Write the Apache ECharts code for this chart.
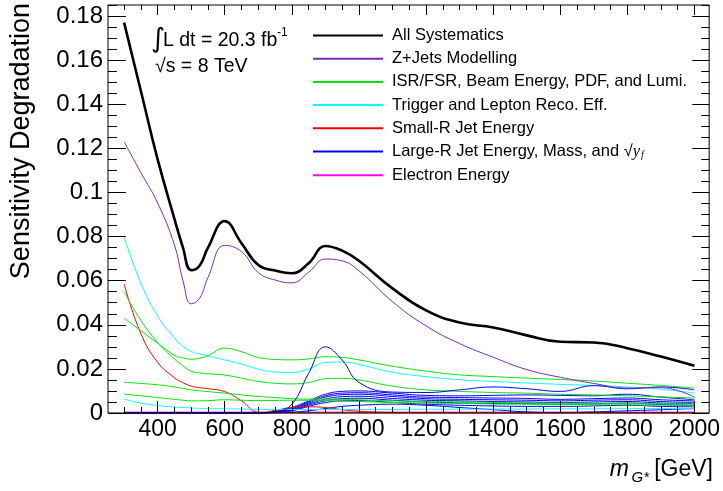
<!DOCTYPE html>
<html>
<head>
<meta charset="utf-8">
<script src="https://cdn.jsdelivr.net/npm/echarts@6/dist/echarts.min.js"></script>
<style>
html,body{margin:0;padding:0;background:#fff;}
#chart{width:723px;height:491px;}
</style>
</head>
<body>
<div id="chart"></div>
<script>
// ---- data ----
const masses = [300,350,400,450,475,500,525,550,600,650,700,750,800,850,900,950,1000,1100,1200,1300,1400,1500,1600,1700,1800,1900,2000];

const allSystematics = [0.177,0.146,0.115,0.088,0.0752,0.0648,0.0668,0.075,0.087,0.077,0.0671,0.0646,0.0634,0.0679,0.0757,0.0736,0.069,0.0565,0.0465,0.041,0.0388,0.0352,0.0323,0.032,0.0294,0.0256,0.0214];
const zjetsModelling = [0.123,0.109,0.0952,0.0762,0.0603,0.0495,0.052,0.0614,0.076,0.0732,0.0637,0.0603,0.059,0.0638,0.0698,0.069,0.0645,0.0505,0.0395,0.0315,0.0253,0.0197,0.0162,0.0134,0.0113,0.0115,0.0072];

const theoryA = [0.043,0.0373,0.0317,0.0262,0.025,0.0244,0.0248,0.026,0.0294,0.0278,0.0252,0.0243,0.0241,0.0245,0.0255,0.0252,0.0241,0.0212,0.019,0.0173,0.0165,0.0158,0.0152,0.0145,0.0135,0.0125,0.0113];
const theoryB = [0.055,0.042,0.032,0.0245,0.0215,0.019,0.0182,0.0178,0.0172,0.0158,0.0143,0.0135,0.0132,0.0138,0.0155,0.0157,0.015,0.0122,0.0105,0.0098,0.0093,0.009,0.0085,0.0082,0.0078,0.0073,0.0068];
const theoryC = [0.0139,0.0134,0.0128,0.0118,0.0112,0.0105,0.0101,0.0097,0.009,0.0082,0.0075,0.007,0.0065,0.0063,0.0063,0.0062,0.006,0.0055,0.0052,0.005,0.0048,0.0046,0.0045,0.0044,0.0043,0.0042,0.0041];
const theoryD = [0.0086,0.0078,0.007,0.0062,0.0058,0.0055,0.0055,0.0056,0.006,0.0058,0.0056,0.0057,0.0058,0.0058,0.0056,0.0054,0.0052,0.0048,0.0045,0.0043,0.0041,0.004,0.0039,0.0038,0.0037,0.0036,0.0035];

const triggerA = [0.080,0.059,0.044,0.034,0.0303,0.0279,0.0268,0.0259,0.0241,0.0222,0.0199,0.0186,0.0184,0.0199,0.0229,0.0231,0.022,0.0185,0.0165,0.0151,0.0143,0.0136,0.013,0.0125,0.0118,0.0108,0.009];
const triggerB = [0.0063,0.0045,0.0034,0.0027,0.0025,0.0023,0.0021,0.002,0.0019,0.0018,0.0017,0.0016,0.0016,0.0016,0.0016,0.0016,0.0016,0.0016,0.0017,0.0017,0.0018,0.0018,0.0019,0.0019,0.002,0.002,0.002];

const smallRJetA = [0.0585,0.036,0.023,0.016,0.0138,0.0122,0.0115,0.011,0.0097,0.0055,0.0003,0,0,0,0,0,0,0,0,0,0,0,0,0,0,0,0];
const smallRJetB = [0,0,0,0,0,0,0,0,0,0,0,0.0012,0.0025,0.0028,0.0025,0.0015,0.0008,0.0002,0,0,0,0,0,0,0,0,0];

const largeRJetA = [0,0,0,0,0,0,0,0,0,0,0,0.0005,0.004,0.018,0.030,0.024,0.0139,0.0095,0.0093,0.0105,0.0118,0.011,0.0098,0.0124,0.011,0.0118,0.0105];
const largeRJetB = [0,0,0,0,0,0,0,0,0,0,0,0.0008,0.0025,0.0055,0.0085,0.0098,0.0100,0.0090,0.0080,0.0078,0.0080,0.0082,0.0080,0.0078,0.0085,0.0072,0.0060];
const largeRJetC = [0,0,0,0,0,0,0,0,0,0,0,0.0006,0.002,0.005,0.0078,0.009,0.0092,0.0082,0.0072,0.007,0.0068,0.0066,0.0062,0.0065,0.0068,0.006,0.0055];
const largeRJetD = [0,0,0,0,0,0,0,0,0,0,0,0.0005,0.0018,0.0045,0.0072,0.0083,0.0085,0.0075,0.0065,0.0062,0.006,0.0058,0.0055,0.0058,0.006,0.0052,0.0048];
const largeRJetE = [0,0,0,0,0,0,0,0,0,0,0,0.0004,0.0015,0.004,0.0063,0.0074,0.0076,0.0066,0.0058,0.0055,0.0052,0.005,0.0047,0.005,0.0052,0.0045,0.0042];
const largeRJetF = [0,0,0,0,0,0,0,0,0,0,0,0.0003,0.0012,0.0035,0.0055,0.0065,0.0067,0.0058,0.005,0.0046,0.0043,0.0042,0.004,0.0042,0.0045,0.0038,0.0035];
const largeRJetG = [0,0,0,0,0,0,0,0,0,0,0,0.0002,0.001,0.003,0.0047,0.0055,0.0056,0.0048,0.004,0.0035,0.0032,0.003,0.003,0.0032,0.0035,0.003,0.0028];
const largeRJetH = [0,0,0,0,0,0,0,0,0,0,0,0,0.0003,0.001,0.002,0.003,0.0035,0.004,0.0035,0.0025,0.0015,0.0005,0.0002,0.0005,0.001,0.0015,0.002];

const electronEnergy = [0.0004,0.0004,0.0004,0.0004,0.0004,0.0004,0.0004,0.0004,0.0004,0.0004,0.0004,0.0004,0.0004,0.0004,0.0004,0.0004,0.0004,0.0004,0.0004,0.0004,0.0004,0.0004,0.0004,0.0004,0.0004,0.0004,0.0004];

const xMajorTicks = [400,600,800,1000,1200,1400,1600,1800,2000];
const xMinorTicks = [300,350,450,500,550,650,700,750,850,900,950,1050,1100,1150,1250,1300,1350,1450,1500,1550,1650,1700,1750,1850,1900,1950];
const yMajorTicks = [0,0.02,0.04,0.06,0.08,0.1,0.12,0.14,0.16,0.18];
const yMinorTicks = [0.005,0.01,0.015,0.025,0.03,0.035,0.045,0.05,0.055,0.065,0.07,0.075,0.085,0.09,0.095,0.105,0.11,0.115,0.125,0.13,0.135,0.145,0.15,0.155,0.165,0.17,0.175,0.185];

const NAMES = {
  all: 'All Systematics',
  zj: 'Z+Jets Modelling',
  th: 'ISR/FSR, Beam Energy, PDF, and Lumi.',
  tr: 'Trigger and Lepton Reco. Eff.',
  sr: 'Small-R Jet Energy',
  lr: 'Large-R Jet Energy, Mass, and ',
  el: 'Electron Energy'
};
const COLORS = {all:'#000000', zj:'#7b28b8', th:'#00e600', tr:'#00ffff', sr:'#ff0000', lr:'#0000ff', el:'#ff00ff'};
const FONT = 'Liberation Sans, Arial, sans-serif';

// ---- layout ----
const W = 723, H = 491;
const GL = 108, GR = 10, GT = 5, GB = 78;
const XMIN = 252, XMAX = 2044, YMIN = 0, YMAX = 0.185;
const xPerPx = (XMAX - XMIN) / (W - GL - GR);
const yPerPx = (YMAX - YMIN) / (H - GT - GB);

function mk(key, values, width) {
  return {
    type: 'line', name: NAMES[key],
    data: masses.map((m, i) => [m, values[i]]),
    smooth: 0.45, symbol: 'none', showSymbol: false,
    lineStyle: {color: COLORS[key], width: width || 1},
    itemStyle: {color: COLORS[key]},
    emphasis: {disabled: true}, silent: true
  };
}

// plot frame, drawn through the axis scales
const frameSeries = {
  type: 'line', name: NAMES.all,
  data: [[XMIN, YMIN], [XMAX, YMIN], [XMAX, YMAX], [XMIN, YMAX], [XMIN, YMIN]],
  symbol: 'none', showSymbol: false, clip: false, silent: true, z: 10,
  lineStyle: {color: '#000', width: 1}, itemStyle: {color: '#000'}, emphasis: {disabled: true}
};

// inside tick marks on all four sides
const tickSegs = [];
function addX(vals, lb, lt) {
  vals.forEach(v => {
    tickSegs.push({coords: [[v, YMIN], [v, YMIN + lb * yPerPx]]});
    tickSegs.push({coords: [[v, YMAX], [v, YMAX - lt * yPerPx]]});
  });
}
function addY(vals, ll, lr) {
  vals.forEach(v => {
    tickSegs.push({coords: [[XMIN, v], [XMIN + ll * xPerPx, v]]});
    tickSegs.push({coords: [[XMAX, v], [XMAX - lr * xPerPx, v]]});
  });
}
addX(xMajorTicks, 12, 10);
addX(xMinorTicks, 6, 5);
addY(yMajorTicks, 18, 17);
addY(yMinorTicks, 9, 8);
const tickSeries = {
  type: 'lines', name: NAMES.all, coordinateSystem: 'cartesian2d', polyline: false,
  data: tickSegs, silent: true, clip: false, z: 10, animation: false,
  lineStyle: {color: '#000', width: 1, opacity: 1, curveness: 0},
  effect: {show: false}
};

const series = [
  mk('all', allSystematics, 2.6),
  mk('el', electronEnergy),
  mk('lr', largeRJetH), mk('lr', largeRJetG), mk('lr', largeRJetF), mk('lr', largeRJetE),
  mk('lr', largeRJetD), mk('lr', largeRJetC), mk('lr', largeRJetB),
  mk('sr', smallRJetA), mk('sr', smallRJetB),
  mk('tr', triggerB), mk('tr', triggerA),
  mk('th', theoryD), mk('th', theoryC), mk('th', theoryB), mk('th', theoryA),
  mk('lr', largeRJetA),
  mk('zj', zjetsModelling),
  frameSeries,
  tickSeries
];
series[0].z = 3;

const legendFont = 16.5;
const texts = [
  {type: 'text', x: 22, y: 3, rotation: Math.PI / 2,
    style: {text: 'Sensitivity Degradation', fill: '#000', fontSize: 27, fontFamily: FONT, align: 'right', verticalAlign: 'middle'}},
  {type: 'text', x: 713, y: 470,
    style: {text: '[GeV]', fill: '#000', fontSize: 23, fontFamily: FONT, align: 'right', verticalAlign: 'middle'}},
  {type: 'text', x: 649, y: 478,
    style: {text: 'G*', fill: '#000', fontSize: 15, fontStyle: 'italic', fontFamily: FONT, align: 'right', verticalAlign: 'middle'}},
  {type: 'text', x: 629, y: 470,
    style: {text: 'm', fill: '#000', fontSize: 23, fontStyle: 'italic', fontFamily: FONT, align: 'right', verticalAlign: 'middle'}},
  {type: 'text', x: 151, y: 40,
    style: {text: '\u222B', fill: '#000', fontSize: 27, fontFamily: 'DejaVu Sans, sans-serif', align: 'left', verticalAlign: 'middle'}},
  {type: 'text', x: 163, y: 41,
    style: {text: 'L dt = 20.3 fb', fill: '#000', fontSize: 19.5, fontFamily: FONT, align: 'left', verticalAlign: 'middle'}},
  {type: 'text', x: 277, y: 33,
    style: {text: '-1', fill: '#000', fontSize: 12, fontFamily: FONT, align: 'left', verticalAlign: 'middle'}},
  {type: 'text', x: 155, y: 67,
    style: {text: '\u221As = 8 TeV', fill: '#000', fontSize: 19.5, fontFamily: FONT, align: 'left', verticalAlign: 'middle'}}
];

const option = {
  animation: false,
  grid: {left: GL, right: GR, top: GT, bottom: GB},
  xAxis: {
    type: 'value', min: XMIN, max: XMAX,
    axisLine: {show: false}, axisTick: {show: false}, splitLine: {show: false},
    axisLabel: {show: true, customValues: xMajorTicks, color: '#000', fontSize: 23, fontFamily: FONT, margin: 5, formatter: v => String(v)}
  },
  yAxis: {
    type: 'value', min: YMIN, max: YMAX,
    axisLine: {show: false}, axisTick: {show: false}, splitLine: {show: false},
    axisLabel: {show: true, customValues: yMajorTicks, color: '#000', fontSize: 24, fontFamily: FONT, margin: 5,
      formatter: v => (v === 0 ? '0' : String(+v.toFixed(3)))}
  },
  legend: {
    orient: 'vertical', left: 308, top: 22,
    icon: 'rect', itemWidth: 70, itemHeight: 2, itemGap: 6.2,
    selectedMode: false,
    textStyle: {fontSize: legendFont, color: '#000', fontFamily: FONT, padding: [0, 0, 0, 4],
      rich: {
        it: {fontSize: legendFont, fontStyle: 'italic', fontFamily: 'Liberation Serif, serif'},
        sub: {fontSize: 10, fontStyle: 'italic', fontFamily: 'Liberation Serif, serif', verticalAlign: 'bottom', padding: [8, 0, 0, 1]}
      }},
    formatter: n => (n === NAMES.lr ? n + '\u221A{it|y}{sub|f}' : n),
    data: [NAMES.all, NAMES.zj, NAMES.th, NAMES.tr, NAMES.sr, NAMES.lr, NAMES.el]
  },
  graphic: texts,
  series: series
};

const chart = echarts.init(document.getElementById('chart'), null, {renderer: 'canvas'});
chart.setOption(option);
</script>
</body>
</html>
